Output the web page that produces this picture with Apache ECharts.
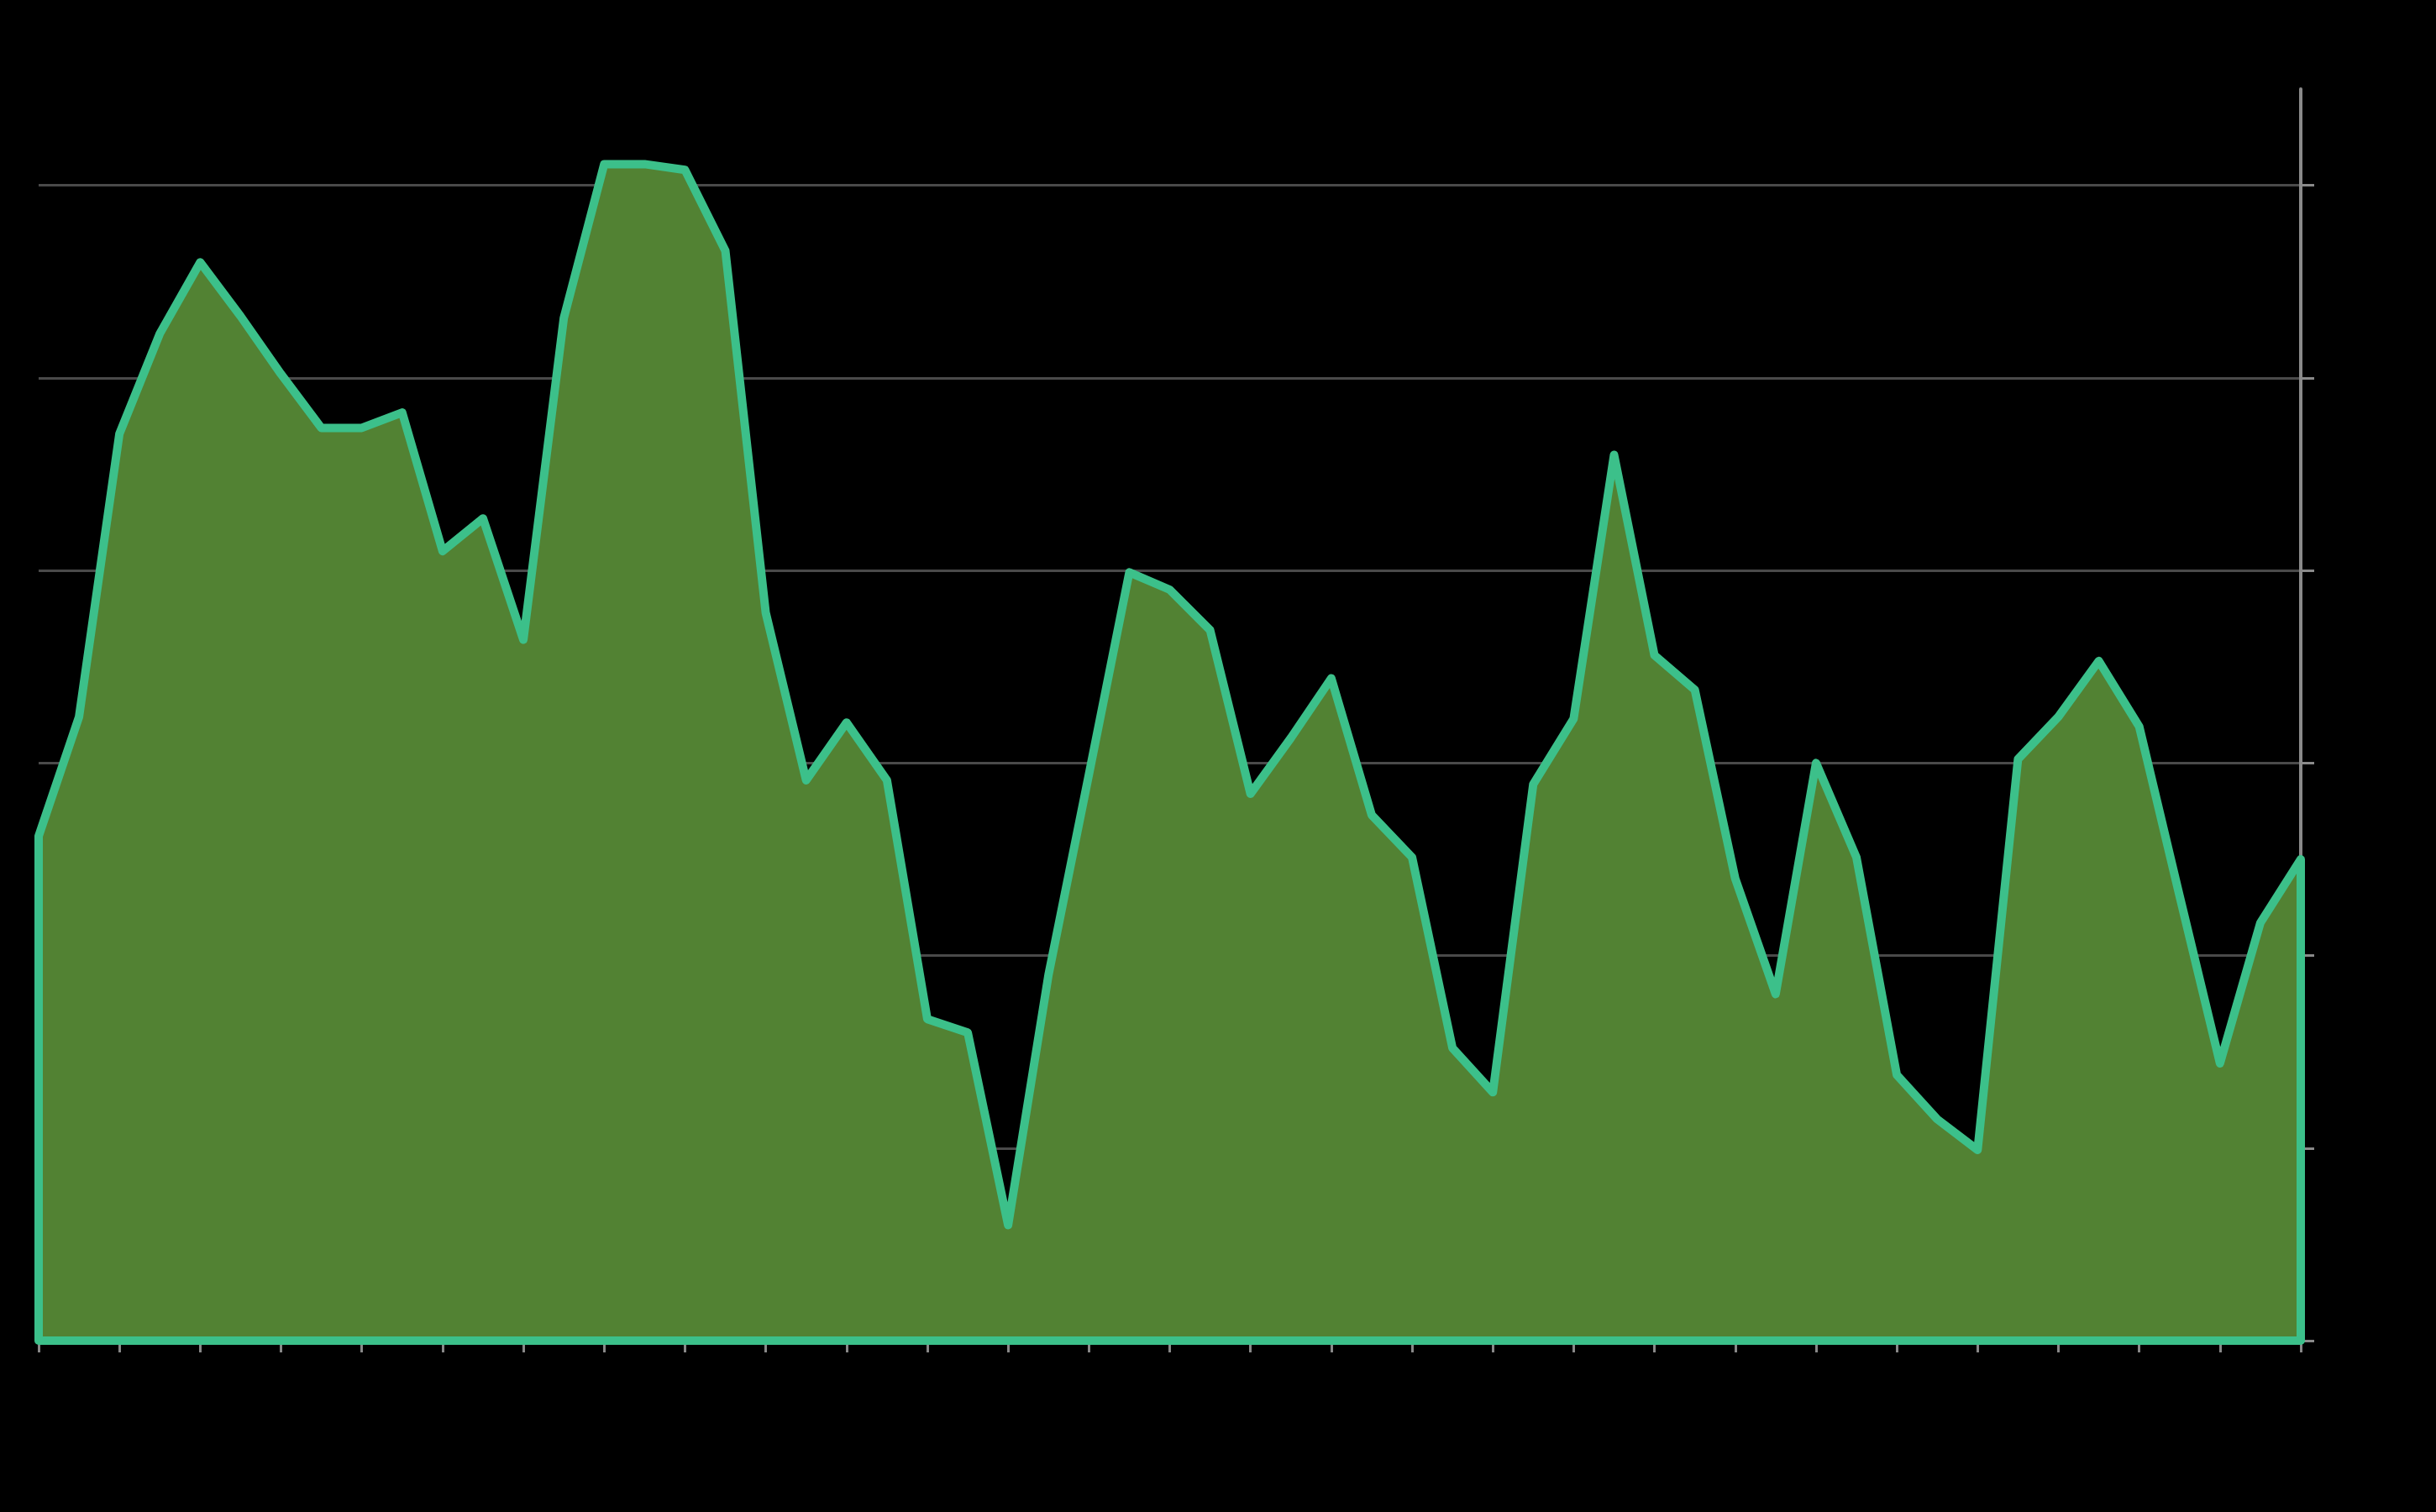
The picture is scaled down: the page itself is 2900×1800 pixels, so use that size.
<!DOCTYPE html>
<html>
<head>
<meta charset="utf-8">
<script src="https://cdn.jsdelivr.net/npm/echarts@6/dist/echarts.min.js"></script>
<style>
html,body{margin:0;padding:0;background:#000;}
#chart{width:2900px;height:1800px;}
</style>
</head>
<body>
<div id="chart"></div>
<script>
const categories = Array.from({length: 57}, (_, i) => String(i + 1));
const values = [
  26.2, 32.4, 47.1, 52.3, 56.0, 53.2, 50.2, 47.4, 47.4, 48.2,
  41.0, 42.7, 36.4, 53.1, 61.1, 61.1, 60.8, 56.6, 37.8, 29.1,
  32.1, 29.1, 16.7, 16.0, 6.0, 19.0, 29.4, 39.9, 39.0, 36.9,
  28.4, 31.3, 34.4, 27.3, 25.1, 15.2, 12.9, 28.9, 32.3, 46.0,
  35.6, 33.8, 24.0, 18.0, 30.0, 25.1, 13.8, 11.5, 9.9, 30.2,
  32.4, 35.3, 31.9, 23.1, 14.4, 21.7, 25.0
];
const yTicks = [0, 10, 20, 30, 40, 50, 60];
const yMax = 65.0;

const chart = echarts.init(document.getElementById('chart'));
chart.setOption({
  backgroundColor: '#000000',
  animation: false,
  grid: {left: 46, right: 161, top: 106, bottom: 204, containLabel: false},
  xAxis: {
    type: 'category',
    data: categories,
    boundaryGap: false,
    axisLine: {show: true, lineStyle: {color: '#888888', width: 3}},
    axisTick: {show: true, interval: 1, length: 14, lineStyle: {color: '#888888', width: 3}},
    axisLabel: {show: false},
    splitLine: {show: false}
  },
  yAxis: {
    type: 'value',
    position: 'right',
    min: 0,
    max: yMax,
    interval: 10,
    axisLine: {show: true, lineStyle: {color: '#8a8a8a', width: 4}},
    axisTick: {show: true, length: 16, customValues: yTicks, lineStyle: {color: '#8a8a8a', width: 3}},
    axisLabel: {show: false, customValues: yTicks},
    splitLine: {show: true, lineStyle: {color: '#4a4a4a', width: 3}}
  },
  series: [{
    type: 'custom',
    data: values.map((v, i) => [i, v]),
    encode: {x: 0, y: 1},
    clip: false,
    renderItem: function (params, api) {
      if (params.dataIndex !== 0) return null;
      const pts = values.map((v, i) => api.coord([i, v]));
      pts.push(api.coord([values.length - 1, 0]));
      pts.push(api.coord([0, 0]));
      return {
        type: 'polygon',
        shape: {points: pts},
        style: {fill: '#528233', stroke: '#3cc08a', lineWidth: 10, lineJoin: 'round'}
      };
    }
  }]
});
</script>
</body>
</html>
